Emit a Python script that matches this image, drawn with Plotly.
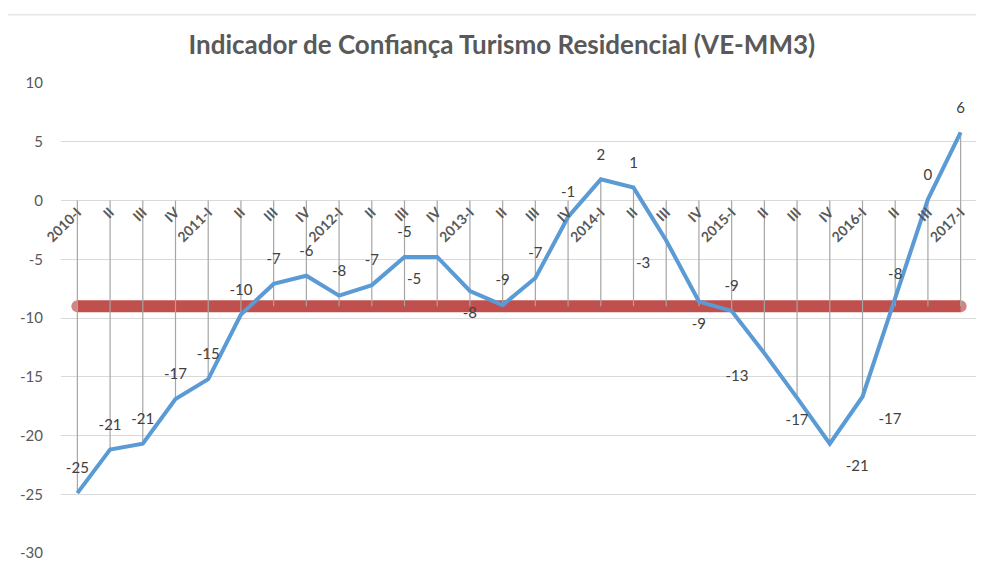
import plotly.graph_objects as go

# quarterly categories as they appear on the axis
trimestres = ["2010-I", "II", "III", "IV", "2011-I", "II", "III", "IV",
              "2012-I", "II", "III", "IV", "2013-I", "II", "III", "IV",
              "2014-I", "II", "III", "IV", "2015-I", "II", "III", "IV",
              "2016-I", "II", "III", "2017-I"]
indicador = [-24.9, -21.2, -20.7, -16.9, -15.2, -9.7, -7.1, -6.4,
             -8.1, -7.2, -4.8, -4.8, -7.7, -8.9, -6.6, -1.4,
             1.8, 1.1, -3.4, -8.6, -9.4, -13.0, -16.8, -20.7,
             -16.7, -8.4, 0.1, 5.8]
media = -9.0
y_ticks = [-30, -25, -20, -15, -10, -5, 0, 5, 10]

x_idx = list(range(len(trimestres)))

label_pos = ["top center"] * len(trimestres)
for i in (11, 18, 21):
    label_pos[i] = "bottom left"
for i in (12, 19, 22):
    label_pos[i] = "bottom center"
for i in (23, 24):
    label_pos[i] = "bottom right"

# drop lines: from the axis (0) / the point down to the reference line / point
drop_x, drop_y = [], []
for i, v in zip(x_idx, indicador):
    drop_x += [i, i, None]
    drop_y += [max(v, 0), min(v, media), None]

FONT = "Lato"
GREY = "#595959"

fig = go.Figure()

end_sizes = [12] + [0] * (len(trimestres) - 2) + [12]
fig.add_trace(go.Scatter(
    x=x_idx, y=[media] * len(trimestres),
    mode="lines+markers",
    line=dict(color="#C0504D", width=12),
    marker=dict(size=end_sizes, color="#C0504D", line=dict(width=0)),
    hoverinfo="skip", showlegend=False
))

fig.add_trace(go.Scatter(
    x=drop_x, y=drop_y, mode="lines",
    line=dict(color="#a6a6a6", width=1.2),
    hoverinfo="skip", showlegend=False
))

fig.add_trace(go.Scatter(
    x=x_idx, y=indicador,
    mode="lines+markers+text",
    line=dict(color="#5B9BD5", width=4),
    marker=dict(size=24, color="rgba(0,0,0,0)"),
    texttemplate="%{y:.0f}",
    textposition=label_pos,
    textfont=dict(family=FONT, size=15, color="#404040"),
    showlegend=False
))

# page body adds an 8px offset, so the figure is 976x560
fig.update_layout(
    width=976, height=560,
    paper_bgcolor="white", plot_bgcolor="white",
    margin=dict(l=53, r=7, t=75, b=15),
    title=dict(text="<b>Indicador de Confiança Turismo Residencial (VE-MM3)</b>",
               x=0.506, xanchor="center", y=0.934, yanchor="middle",
               font=dict(family=FONT, size=26, color=GREY)),
    xaxis=dict(
        range=[-0.5, len(trimestres) - 0.5],
        tickmode="array", tickvals=x_idx,
        ticktext=["<b>%s</b>" % t for t in trimestres],
        tickangle=-45, tickfont=dict(family=FONT, size=14, color=GREY),
        showgrid=False, zeroline=False, showline=False, ticks="",
        anchor="free", position=0.75, automargin=False
    ),
    yaxis=dict(
        range=[-30, 10], tickmode="array", tickvals=y_ticks,
        ticktext=[str(v) for v in y_ticks],
        gridcolor="#d9d9d9", gridwidth=1, zeroline=False, showline=False,
        ticks="outside", ticklen=14, tickcolor="rgba(0,0,0,0)",
        tickfont=dict(family=FONT, size=15, color=GREY), automargin=False
    ),
    shapes=[dict(type="rect", xref="paper", yref="paper",
                 x0=-0.1, x1=1.2, y0=-0.2, y1=1.145,
                 line=dict(color="#d9d9d9", width=1), layer="below")]
)

fig.write_html("out.html")
